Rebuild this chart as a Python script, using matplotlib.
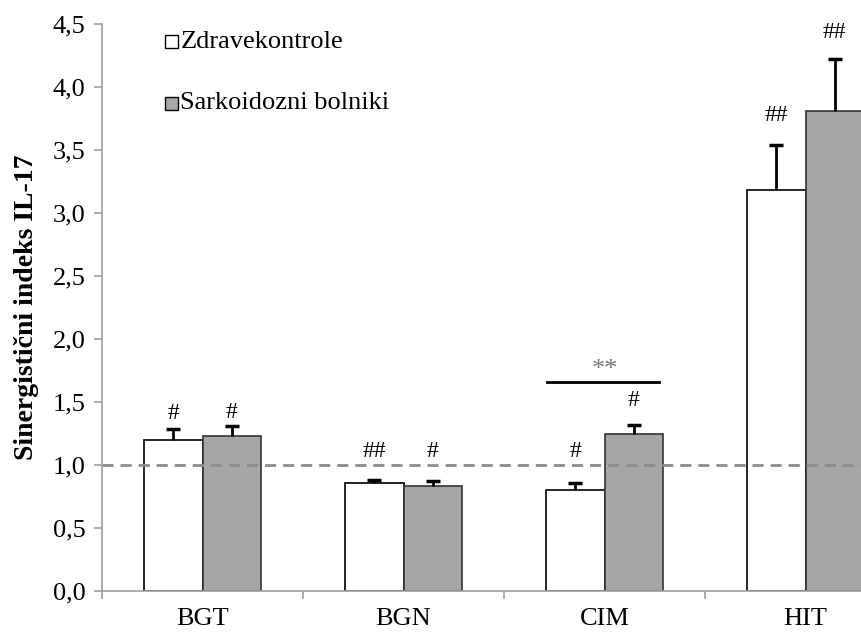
import matplotlib
matplotlib.use("Agg")
import matplotlib.pyplot as plt
from matplotlib.ticker import FuncFormatter, MultipleLocator
from matplotlib.patches import Rectangle
import numpy as np

plt.rcParams['font.family'] = ['Liberation Serif', 'DejaVu Serif']

categories = ["BGT", "BGN", "CIM", "HIT"]
kontrole = [1.20, 0.855, 0.80, 3.18]
kontrole_err = [0.085, 0.025, 0.06, 0.36]
bolniki = [1.23, 0.836, 1.25, 3.81]
bolniki_err = [0.08, 0.035, 0.07, 0.41]
kontrole_marks = ["#", "##", "#", "##"]
bolniki_marks = ["#", "#", "#", "##"]

fig = plt.figure(figsize=(8.61, 6.34), dpi=100)
ax = fig.add_axes([102/861, 43/634, 804/861, 567/634])

x = np.arange(len(categories))
w = 0.29
ax.bar(x - w/2, kontrole, w, color="white", edgecolor="black", linewidth=1.2, zorder=2)
ax.bar(x + w/2, bolniki, w, color="#a6a6a6", edgecolor="#333333", linewidth=1.2, zorder=2)

for xs, vals, errs in [(x - w/2, kontrole, kontrole_err), (x + w/2, bolniki, bolniki_err)]:
    eb = ax.errorbar(xs, vals, yerr=[np.zeros(4), errs], fmt="none",
                     ecolor="black", elinewidth=2, capsize=5, capthick=2.5, zorder=3)
    for cap in eb[1]:
        if np.allclose(cap.get_ydata(), vals):
            cap.set_visible(False)

ax.axhline(1.0, color="#8c8c8c", linestyle=(0, (4, 2.5)), linewidth=2, zorder=4)

# offsets of significance marks above the error bars
off_k = [0.12, 0.11, 0.11, 0.23]
off_b = [0.11, 0.11, 0.19, 0.21]
for i in range(len(categories)):
    ax.text(x[i] - w/2, max(kontrole[i] + kontrole_err[i], 1.0) + off_k[i], kontrole_marks[i],
            ha="center", va="center", fontsize=17)
    ax.text(x[i] + w/2, max(bolniki[i] + bolniki_err[i], 1.0) + off_b[i], bolniki_marks[i],
            ha="center", va="center", fontsize=17)

# significance bar CIM
ax.plot([2 - w + 0.005, 2 + w - 0.02], [1.656, 1.656], color="black", lw=2, zorder=3)
ax.text(2, 1.75, "**", ha="center", va="center", fontsize=19, color="#777777")

ax.set_xlim(-0.5, 3.5)
ax.set_ylim(0, 4.5)
ax.yaxis.set_major_locator(MultipleLocator(0.5))
ax.yaxis.set_major_formatter(FuncFormatter(lambda v, p: f"{v:.1f}".replace(".", ",")))
ax.set_xticks(x)
ax.set_xticklabels(categories)
ax.set_xticks(np.arange(-0.5, 4, 1), minor=True)
ax.tick_params(axis="x", which="major", length=0, labelsize=19, pad=12)
ax.tick_params(axis="x", which="minor", length=6, color="#a0a0a0", width=1.2)
ax.tick_params(axis="y", length=6, color="#a0a0a0", width=1.2, labelsize=19, pad=6)

for s in ["top", "right"]:
    ax.spines[s].set_visible(False)
for s in ["left", "bottom"]:
    ax.spines[s].set_color("#a0a0a0")
    ax.spines[s].set_linewidth(1.2)

ax.set_ylabel("Sinergistični indeks IL-17", fontsize=20, fontweight="bold", labelpad=10)

# legend
for yy, fc, lab in [(4.36, "white", "Zdravekontrole"), (3.87, "#a6a6a6", "Sarkoidozni bolniki")]:
    ax.add_patch(Rectangle((-0.187, yy - 0.05), 0.065, 0.1, facecolor=fc, edgecolor="black",
                           linewidth=1, zorder=5))
    ax.text(-0.11, yy, lab, ha="left", va="center", fontsize=19)

fig.savefig("out.png", dpi=100)
